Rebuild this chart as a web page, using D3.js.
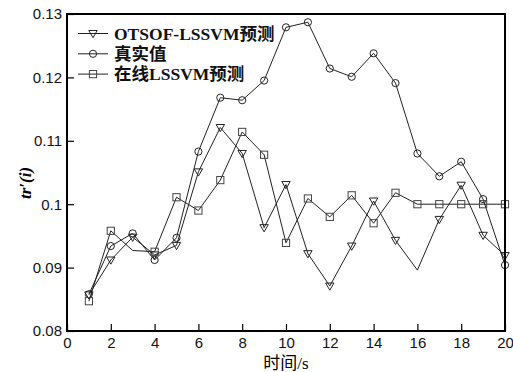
<!DOCTYPE html>
<html>
<head>
<meta charset="utf-8">
<script src="https://d3js.org/d3.v7.min.js"></script>
<style>
  body { margin: 0; background: #fff; }
  svg { display: block; }
  .tick text { font-family: 'Liberation Sans', Arial, sans-serif; font-size: 15px; fill: #111; }
  .legend text { font-family: 'Liberation Serif', 'Noto Sans CJK SC', serif; font-weight: bold; font-size: 17.5px; fill: #111; }
</style>
</head>
<body>
<svg id="chart" width="513" height="372"></svg>
<script>
// time steps
const times = d3.range(1, 21);
// OTSOF-LSSVM prediction
const otsof = [0.0857, 0.0912, 0.0948, 0.0920, 0.0935, 0.1051, 0.1121, 0.1080, 0.0963, 0.1031,
               0.0922, 0.0871, 0.0934, 0.1005, 0.0943, 0.0896, 0.0976, 0.1030, 0.0951, 0.0919];
// actual values
const actual = [0.0858, 0.0934, 0.0954, 0.0912, 0.0947, 0.1083, 0.1168, 0.1164, 0.1195, 0.1279,
                0.1287, 0.1214, 0.1201, 0.1238, 0.1191, 0.1080, 0.1044, 0.1067, 0.1008, 0.0904];
// online LSSVM prediction
const online = [0.0847, 0.0958, 0.0927, 0.0925, 0.1011, 0.0990, 0.1038, 0.1114, 0.1078, 0.0939,
                0.1009, 0.0980, 0.1014, 0.0970, 0.1018, 0.1000, 0.1000, 0.1000, 0.1000, 0.1000];
// points drawn without marker in the source figure
const otsofNoMark = [16];
const onlineNoMark = [3];

const xTicks = [0, 2, 4, 6, 8, 10, 12, 14, 16, 18, 20];
const yTicks = [0.08, 0.09, 0.10, 0.11, 0.12, 0.13];
const yTickLabels = ["0.08", "0.09", "0.1", "0.11", "0.12", "0.13"];

const series = [
  { name: "OTSOF-LSSVM预测", values: otsof, marker: "tri", skip: otsofNoMark },
  { name: "真实值", values: actual, marker: "circle", skip: [] },
  { name: "在线LSSVM预测", values: online, marker: "square", skip: onlineNoMark }
];

const margin = { top: 14, right: 8, bottom: 41, left: 67 };
const width = 513, height = 372;
const svg = d3.select("#chart");

const x = d3.scaleLinear().domain([0, 20]).range([margin.left, width - margin.right]);
const y = d3.scaleLinear().domain([0.08, 0.13]).range([height - margin.bottom, margin.top]);

const ink = "#222";

// lines
const line = d3.line().x((d, i) => x(times[i])).y(d => y(d));
series.forEach(s => {
  svg.append("path")
    .attr("d", line(s.values))
    .attr("fill", "none")
    .attr("stroke", ink)
    .attr("stroke-width", 1);
});

function drawMarker(g, type, cx, cy) {
  if (type === "circle") {
    g.append("circle").attr("cx", cx).attr("cy", cy).attr("r", 3.6)
      .attr("fill", "none").attr("stroke", ink).attr("stroke-width", 1);
  } else if (type === "square") {
    g.append("rect").attr("x", cx - 3.6).attr("y", cy - 3.6).attr("width", 7.2).attr("height", 7.2)
      .attr("fill", "none").attr("stroke", "#444").attr("stroke-width", 1);
  } else {
    g.append("path")
      .attr("d", `M${cx - 4.2},${cy - 3}L${cx + 4.2},${cy - 3}L${cx},${cy + 4.2}Z`)
      .attr("fill", "none").attr("stroke", ink).attr("stroke-width", 1);
  }
}

const marks = svg.append("g");
series.forEach(s => {
  s.values.forEach((v, i) => {
    if (s.skip.includes(times[i])) return;
    drawMarker(marks, s.marker, x(times[i]), y(v));
  });
});

// frame
svg.append("rect")
  .attr("x", margin.left).attr("y", margin.top)
  .attr("width", width - margin.left - margin.right)
  .attr("height", height - margin.top - margin.bottom)
  .attr("fill", "none").attr("stroke", "#000").attr("stroke-width", 2);

// axes with inward ticks
const xAxis = svg.append("g")
  .attr("transform", `translate(0,${height - margin.bottom})`)
  .call(d3.axisBottom(x).tickValues(xTicks).tickSize(-7).tickPadding(6).tickFormat(d3.format("d")));
xAxis.select(".domain").remove();
xAxis.selectAll(".tick line").attr("stroke", "#000").attr("stroke-width", 1.2);

const yAxis = svg.append("g")
  .attr("transform", `translate(${margin.left},0)`)
  .call(d3.axisLeft(y).tickValues(yTicks).tickSize(-7).tickPadding(5)
    .tickFormat((d, i) => yTickLabels[i]));
yAxis.select(".domain").remove();
yAxis.selectAll(".tick line").attr("stroke", "#000").attr("stroke-width", 1.2);

// axis titles
svg.append("text")
  .attr("x", 286)
  .attr("y", 369)
  .attr("text-anchor", "middle")
  .style("font-family", "'Liberation Serif', 'Noto Sans CJK SC', serif")
  .style("font-size", "17px")
  .text("时间/s");

svg.append("text")
  .attr("transform", `translate(31,183) rotate(-90)`)
  .attr("text-anchor", "middle")
  .style("font-family", "'Liberation Serif', serif")
  .style("font-size", "17px")
  .style("font-weight", "bold")
  .style("font-style", "italic")
  .text("tr′(i)");

// legend
const legend = svg.append("g").attr("class", "legend");
series.forEach((s, i) => {
  const ly = 33.5 + i * 20.3;
  legend.append("line").attr("x1", 78).attr("x2", 108).attr("y1", ly).attr("y2", ly)
    .attr("stroke", ink).attr("stroke-width", 1);
  drawMarker(legend, s.marker, 93, ly);
  legend.append("text").attr("x", 114).attr("y", ly + 6).text(s.name);
});
</script>
</body>
</html>
